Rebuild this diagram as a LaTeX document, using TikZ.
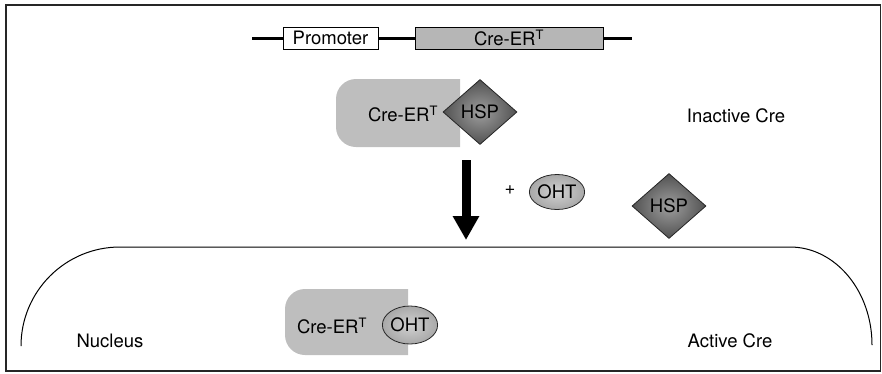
\documentclass[tikz,border=0pt]{standalone}
\usepackage{fontspec}
\setmainfont{TeX Gyre Heros}
\usetikzlibrary{shapes.geometric,arrows.meta}

\definecolor{protgray}{RGB}{190,190,190}
\definecolor{genegray}{RGB}{182,182,182}

\begin{document}
\begin{tikzpicture}
	[
	  x=1pt, y=1pt,
	  every node/.style={font=\fontsize{18.5}{22}\selectfont, inner sep=0pt},
	  genebox/.style={draw, line width=0.8pt, minimum height=22pt},
	  gene/.style={line width=3pt},
	  protein/.style={fill=protgray},
	  hsp/.style={diamond, draw=black!85, line width=0.8pt, minimum width=74pt, minimum height=65pt,
	    inner color=black!38, outer color=black!68},
	  oht/.style={ellipse, draw=black!85, line width=0.8pt, minimum width=45pt, minimum height=35pt,
	    inner color=black!18, outer color=black!34},
	  bigarrow/.style={line width=9pt, -{Triangle[length=24pt,width=25pt]}},
	]
	\useasboundingbox (0,0) rectangle (882,-373);
	\draw [black!85, line width=1.5pt] (6,-5) rectangle (880.5,-371);
	% gene construct
	\coordinate (lend) at (252,-38);
	\coordinate (rend) at (632,-38);
	\node (promoter) [genebox, fill=white, minimum width=95pt] at (330.5,-38) {Promoter};
	\node (crebox) [genebox, fill=genegray, minimum width=188pt] at (509,-38) {Cre-ER\textsuperscript{T}};
	\draw [gene] (lend) -- (promoter) -- (crebox) -- (rend);
	% inactive cre
	\fill [protein] (460,-79) {[rounded corners=20pt] -- (336,-79) -- (336,-147)} -- (460,-147) -- cycle;
	\node (cre1) at (403,-114) {Cre-ER\textsuperscript{T}};
	\node (hsp1) [hsp] at (480,-112) {HSP};
	\node (inactive) at (736,-116) {Inactive Cre};
	% step
	\coordinate (arrtop) at (466,-160);
	\coordinate (arrtip) at (466,-240);
	\draw [bigarrow] (arrtop) -- (arrtip);
	\node (plus) at (510,-190) {+};
	\node (oht1) [oht] at (557,-192) {OHT};
	\node (hsp2) [hsp] at (669,-206) {HSP};
	% nucleus
	\draw [line width=1pt] (21,-346) arc [start angle=180, end angle=90, radius=99]
	  -- (790,-247) arc [start angle=90, end angle=0, x radius=82, y radius=98];
	\fill [protein] (408,-289) {[rounded corners=20pt] -- (285,-289) -- (285,-355)} -- (408,-355) -- cycle;
	\node (cre2) at (332,-326) {Cre-ER\textsuperscript{T}};
	\node (oht2) [oht, minimum width=44pt, minimum height=38pt] at (410,-325) {OHT};
	\node (nucleus) at (110,-341) {Nucleus};
	\node (active) at (730,-341) {Active Cre};
\end{tikzpicture}
\end{document}
